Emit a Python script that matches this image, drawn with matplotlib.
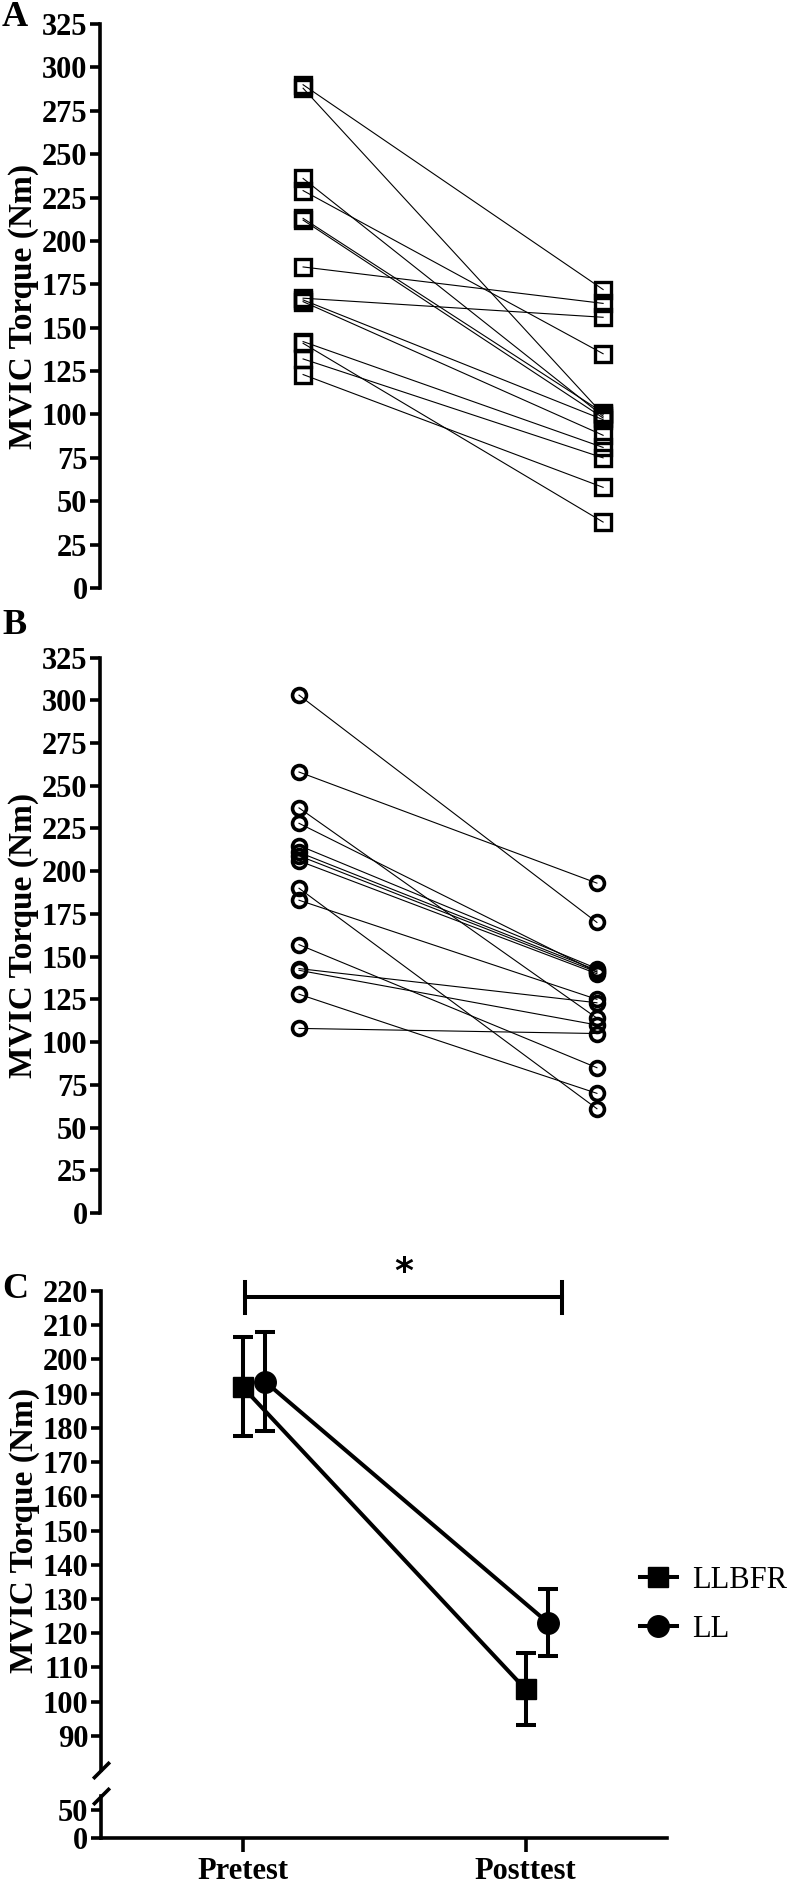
import numpy as np
import matplotlib.pyplot as plt
from matplotlib.lines import Line2D

plt.rcParams['font.family'] = 'Liberation Serif'
plt.rcParams['font.weight'] = 'bold'
plt.rcParams['axes.labelweight'] = 'bold'

# Panel A: LLBFR individual MVIC torque (Nm)
a_pre = [290, 288, 236, 229, 213, 212, 185, 167, 166, 165, 142, 141, 132, 123]
a_post = [172, 100, 99, 135, 101, 98, 164, 156, 97, 88, 81, 38, 75, 58]

# Panel B: LL individual MVIC torque (Nm)
b_pre = [303, 258, 237, 228, 215, 211, 209, 206, 190, 183, 157, 143, 142, 128, 108]
b_post = [170, 193, 114, 141, 143, 142, 141, 140, 61, 125, 85, 123, 110, 70, 105]

# Panel C: group means and error
times = ['Pretest', 'Posttest']
llbfr_mean = [192, 103.6]
llbfr_err = [14.5, 10.5]
ll_mean = [193.5, 123]
ll_err = [14.5, 9.8]

W, H = 798, 1885


def rect(l, t, r, b):
    return [l / W, 1 - b / H, (r - l) / W, (b - t) / H]


fig = plt.figure(figsize=(W / 100, H / 100), dpi=100)

tick_fs = 22
lab_fs = 24


def bold_ticks(ax):
    for t in ax.get_yticklabels() + ax.get_xticklabels():
        t.set_fontweight('bold')


def style_y(ax):
    for s in ['top', 'right', 'bottom']:
        ax.spines[s].set_visible(False)
    ax.spines['left'].set_linewidth(2.6)
    ax.tick_params(axis='y', width=2.6, length=7, pad=2, labelsize=tick_fs)
    ax.tick_params(axis='x', bottom=False, labelbottom=False)
    bold_ticks(ax)


# ---- A ----
axA = fig.add_axes(rect(100, 24, 700, 588))
for p, q in zip(a_pre, a_post):
    axA.plot([0, 1], [p, q], color='k', lw=0.8, marker='s', ms=11,
             mfc='none', mec='k', mew=2.4, clip_on=False)
axA.set_xlim(-0.677, 1.323)
axA.set_ylim(0, 325)
axA.set_yticks(np.arange(0, 326, 25))
style_y(axA)
axA.set_ylabel('MVIC Torque (Nm)', fontsize=lab_fs, labelpad=2)

# ---- B ----
axB = fig.add_axes(rect(100, 657.5, 700, 1213))
for p, q in zip(b_pre, b_post):
    axB.plot([0, 1], [p, q], color='k', lw=0.8, marker='o', ms=10,
             mfc='none', mec='k', mew=2.6, clip_on=False)
axB.set_xlim(-0.668, 1.346)
axB.set_ylim(0, 325)
axB.set_yticks(np.arange(0, 326, 25))
style_y(axB)
axB.set_ylabel('MVIC Torque (Nm)', fontsize=lab_fs, labelpad=2)

# ---- C ----
axC = fig.add_axes(rect(101, 1291, 667, 1770))
axC2 = fig.add_axes(rect(101, 1796, 667, 1838))
x = np.arange(len(times))
axC.errorbar(x, llbfr_mean, yerr=llbfr_err, color='k', lw=2.9, marker='s',
             ms=15, capsize=7.5, capthick=2.9, elinewidth=2.9, clip_on=False)
axC.errorbar(x + 0.08, ll_mean, yerr=ll_err, color='k', lw=2.9, marker='o',
             ms=15.5, capsize=7.5, capthick=2.9, elinewidth=2.9, clip_on=False)
for ax in (axC, axC2):
    ax.set_xlim(-0.5, 1.5)
    for s in ['top', 'right']:
        ax.spines[s].set_visible(False)
    ax.spines['left'].set_linewidth(2.6)
    ax.spines['bottom'].set_linewidth(2.6)
    ax.tick_params(width=2.6, length=7, pad=2, labelsize=tick_fs)

axC.set_ylim(80, 220)
axC.set_yticks(np.arange(90, 221, 10))
axC.spines['bottom'].set_visible(False)
axC.tick_params(axis='x', bottom=False, labelbottom=False)
axC.set_ylabel('MVIC Torque (Nm)', fontsize=lab_fs, labelpad=2)

axC2.set_ylim(0, 75)
axC2.set_yticks([0, 50])
axC2.set_xticks(x)
axC2.set_xticklabels(times, fontsize=tick_fs)
axC2.tick_params(axis='x', length=10, pad=4)
bold_ticks(axC)
bold_ticks(axC2)

# axis break marks
kw = dict(marker=[(-1, -1), (1, 1)], markersize=12, linestyle='none',
          color='k', mec='k', mew=2.6, clip_on=False)
axC.plot([0], [0], transform=axC.transAxes, **kw)
axC2.plot([0], [1], transform=axC2.transAxes, **kw)

# significance bracket
axC.plot([0.01, 1.13], [218.2, 218.2], color='k', lw=2.9, clip_on=False)
axC.plot([0.01, 0.01], [213.5, 222.7], color='k', lw=2.9, clip_on=False)
axC.plot([1.13, 1.13], [213.5, 222.7], color='k', lw=2.9, clip_on=False)
axC.text(0.57, 225.5, '*', ha='center', va='center', fontsize=26,
         family='DejaVu Sans', fontweight='bold')

handles = [Line2D([], [], color='k', lw=2.9, marker='s', ms=15),
           Line2D([], [], color='k', lw=2.9, marker='o', ms=15.5)]
fig.legend(handles, ['LLBFR', 'LL'], loc='center left',
           bbox_to_anchor=(640 / W, 1 - 1605 / H),
           frameon=False, prop={'weight': 'normal', 'size': 22},
           handlelength=1.2, handletextpad=0.5, labelspacing=0.65,
           borderpad=0, borderaxespad=0)

for letter, ty in [('A', 18), ('B', 625), ('C', 1290)]:
    fig.text(2 / W, 1 - ty / H, letter, fontsize=26, fontweight='bold',
             va='center', ha='left')

fig.savefig('out.png', dpi=100)
